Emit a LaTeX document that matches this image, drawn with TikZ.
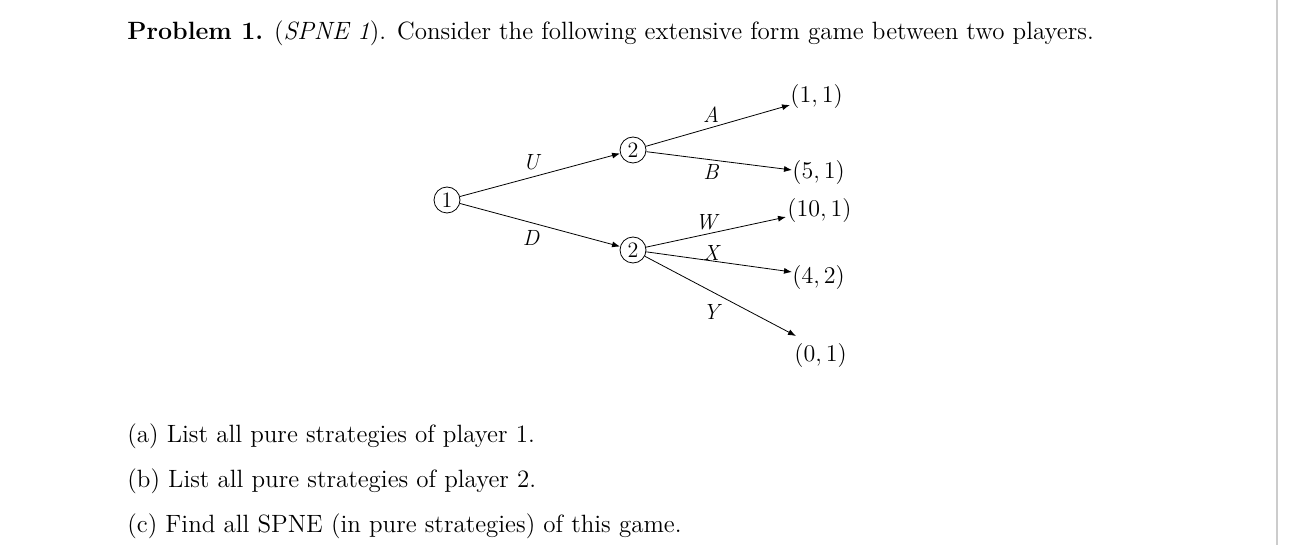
\documentclass[tikz,border=0pt]{standalone}
\usetikzlibrary{arrows.meta}
\begin{document}
\begin{tikzpicture}[x=0.5pt,y=-0.5pt,
  pl/.style={circle,draw,inner sep=0pt,minimum size=13pt,font=\fontsize{11}{12}\selectfont},
  leaf/.style={font=\fontsize{12}{14}\selectfont,inner sep=1pt},
  lab/.style={font=\fontsize{11}{12}\selectfont\itshape},
  edge/.style={draw,thin,-{Latex[length=4pt,width=3pt]}},
  txt/.style={anchor=west,font=\fontsize{12.5}{15}\selectfont,inner sep=0pt}]
\useasboundingbox (0,0) rectangle (1290,545);
\fill[white] (0,0) rectangle (1290,545);
\draw[black!20,line width=1pt] (1277,0) -- (1277,545);
\node[txt] (title) at (127,33) {\textbf{Problem 1.} (\textit{SPNE 1}). Consider the following extensive form game between two players.};
\node[pl] (n1) at (447,200) {1};
\node[pl] (n2) at (633,150) {2};
\node[pl] (n3) at (633,250) {2};
\node[leaf,anchor=west] (l1) at (788,97) {$(1,1)$};
\node[leaf,anchor=west] (l2) at (790,173) {$(5,1)$};
\node[leaf,anchor=west] (l3) at (785,211) {$(10,1)$};
\node[leaf,anchor=west] (l4) at (790,278) {$(4,2)$};
\node[leaf,anchor=west] (l5) at (792,355) {$(0,1)$};
\coordinate (e1) at (790,105);
\coordinate (e2) at (792,170);
\coordinate (e3) at (786,217);
\coordinate (e4) at (792,272);
\coordinate (e5) at (796,336);
\path[edge] (n1) -- (n2);
\path[edge] (n1) -- (n3);
\path[edge] (n2) -- (e1);
\path[edge] (n2) -- (e2);
\path[edge] (n3) -- (e3);
\path[edge] (n3) -- (e4);
\path[edge] (n3) -- (e5);
\node[lab] (lu) at (531,162) {U};
\node[lab] (ld) at (531,238) {D};
\node[lab] (la) at (711,115) {A};
\node[lab] (lb) at (711,172) {B};
\node[lab] (lw) at (706,222) {W};
\node[lab] (lx) at (711,253) {X};
\node[lab] (ly) at (711,312) {Y};
\node[txt] (qa) at (127,436) {(a) List all pure strategies of player 1.};
\node[txt] (qb) at (127,481) {(b) List all pure strategies of player 2.};
\node[txt] (qc) at (127,526) {(c) Find all SPNE (in pure strategies) of this game.};
\end{tikzpicture}
\end{document}
